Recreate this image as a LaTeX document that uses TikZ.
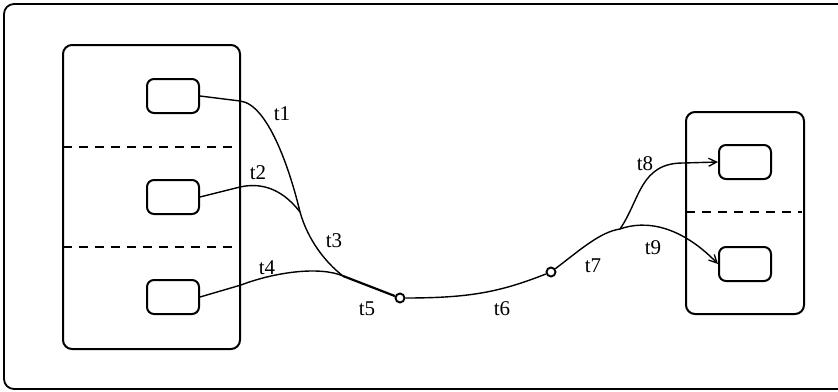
\documentclass[tikz,border=0pt]{standalone}
\usepackage{fontspec}
\setmainfont{Liberation Serif}
\usetikzlibrary{arrows.meta}
\begin{document}
\begin{tikzpicture}[x=1pt,y=-1pt,
  frame/.style={line width=1.8pt,rounded corners=10pt},
  region/.style={line width=2pt,rounded corners=9pt},
  sbox/.style={draw,line width=2pt,rounded corners=7pt,minimum width=52pt,minimum height=34pt,inner sep=0pt},
  divider/.style={line width=2pt,dash pattern=on 9pt off 7pt},
  conn/.style={line width=1.4pt},
  arr/.style={conn,-{Straight Barb[length=8pt,width=8pt,line width=1.3pt]}},
  junc/.style={draw,circle,line width=1.9pt,minimum size=9pt,inner sep=0pt},
  lbl/.style={font=\fontsize{21}{25}\selectfont,inner sep=0pt}]
\useasboundingbox (0,0) rectangle (838,391);
\begin{scope}
\clip (0,0) rectangle (838,391);
\draw[frame] (4,4) rectangle (850,389);
\end{scope}
% left region
\draw[region] (63,45) rectangle (240,349);
\draw[divider] (63,147) -- (238,147);
\draw[divider] (63,247) -- (238,247);
% right region
\draw[region] (686,112) rectangle (804,314);
\draw[divider] (686,212) -- (802,212);
% states
\node[sbox] (b1) at (173,96) {};
\node[sbox] (b2) at (173,197) {};
\node[sbox] (b3) at (173,297) {};
\node[sbox] (b4) at (745,162) {};
\node[sbox] (b5) at (745,264) {};
% junctions
\node[junc] (j1) at (400,298) {};
\node[junc] (j2) at (551,272) {};
\coordinate (m12) at (300,212);
\coordinate (m34) at (343,276);
\coordinate (m89) at (620,229);
\coordinate (c1) at (240,101);
\coordinate (c2) at (240,187);
\coordinate (c4) at (241,285);
\coordinate (c8) at (683,163);
% connectors
\draw[conn] (b1.east) -- (c1) .. controls (268,104) and (290,170) .. (m12);
\draw[conn] (b2.east) -- (c2) .. controls (258,183) and (280,186) .. (m12);
\draw[conn] (m12) .. controls (308,240) and (325,262) .. (m34);
\draw[conn] (b3.east) -- (c4) .. controls (275,272) and (320,266) .. (m34);
\draw[line width=2.2pt] (m34) -- (j1);
\draw[conn] (j1) .. controls (470,298) and (500,292) .. (j2);
\draw[conn] (j2) .. controls (580,250) and (600,232) .. (m89);
\draw[arr] (m89) .. controls (640,200) and (640,163) .. (c8) -- (b4.west);
\draw[arr] (m89) .. controls (645,220) and (680,225) .. (b5.west);
% labels
\node[lbl] (l1) at (282,114) {t1};
\node[lbl] (l2) at (258,173) {t2};
\node[lbl] (l3) at (334,241) {t3};
\node[lbl] (l4) at (267,268) {t4};
\node[lbl] (l5) at (367,309) {t5};
\node[lbl] (l6) at (502,309) {t6};
\node[lbl] (l7) at (593,266) {t7};
\node[lbl] (l8) at (645,164) {t8};
\node[lbl] (l9) at (653,248) {t9};
\end{tikzpicture}
\end{document}
